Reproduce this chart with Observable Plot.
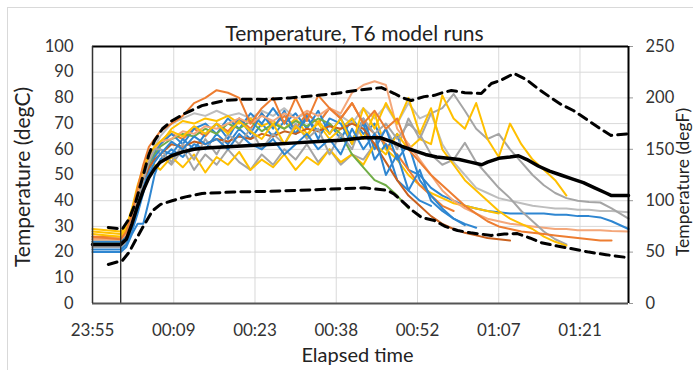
<!DOCTYPE html>
<html>
<head>
<meta charset="utf-8">
<script src="https://cdn.jsdelivr.net/npm/d3@7"></script>
<script src="https://cdn.jsdelivr.net/npm/@observablehq/plot@0.6"></script>
<style>
  html, body { margin: 0; padding: 0; background: #fff; overflow: hidden; }
  #wrap { position: relative; width: 693px; height: 370px; }
  #border { position: absolute; left: 7px; top: 7px; width: 700px; height: 380px; border: 1px solid #D9D9D9; pointer-events: none; }
</style>
</head>
<body>
<div id="wrap"><div id="chart"></div><div id="border"></div></div>
<script>
// Elapsed minutes from the 23:55 axis origin
const times = [0,5,6,7,8,9,10,11,12,14,16,18,20,22,24,26,28,30,32,34,36,38,40,42,44,46,48,50,52,54,56,58,60,62,64,66,68,70,72,74,76,78,80,82,84,86,88,90,92,95];

// Model runs (degC), values read at the times above until each run ends
const runB1 = [20,20,22,27,31,31,40,50,56,60, 57,62,60,66,62,68,64,70,65,71, 66,72,67,70,64,72,66,70,60,66, 52,50,45,42,40,38,37,36,35.5,35, 35,35,35,34.5,34.5,34,34,33.5,32,29];
const runB2 = [24,24,26,30,37,45,52,57,60,58, 64,60,66,70,64,72,66,74,68,75, 66,73,64,72,70,62,72,60,68,56, 62,48,42,37,33,31,29.5];
const runB3 = [21,21,23,28,35,43,50,55,58,63, 60,65,62,64,60,66,62,60,64,58, 62,66,60,64,58,68,60,66,50,58, 44,52,40,36,33,30.5];
const runB4 = [23,23,26,31,40,48,55,59,62,66, 62,68,70,66,72,68,74,70,76,70, 74,68,75,66,72,64,70,56,62,48, 44,40,38];
const runO1 = [26,25,28,35,45,54,61,64,67,70, 73,78,80,83,82,80,70,76,80,70, 80,71,81,76,72,78,70,75,68,72, 60,55,50,46,42,38,35,32,30,29, 28,27.5,27,26.5,26,25.5,25,24.5,24.5];
const runP1 = [25,25,27,33,42,50,56,60,63,64, 67,66,69,68,70,72,70,73,71,74, 72,75,73,76,74,82,85,86.5,85,68, 62,56,50,44,40,37,35,33,32,31, 30.5,30,29.5,29,29,28.5,28.5,28.5,28.2,28];
const runO3 = [25,25,27,32,41,48,53,56,58,62, 61,63,62,64,63,65,64,66,65,67, 66,68,67,69,68,70,68,62,55,48, 42,38,34,31,29,27.5,26.5,25.5,25,24.5];
const runY1 = [28,27,29,35,43,49,53,54,52,57, 53,58,51,57,54,59,52,56,53,58, 52,57,54,60,55,58,54,62,58,66, 60,64,62,81,72,68,78,64,57,70, 62,56,52,48,42];
const runY2 = [27,26,29,36,45,52,58,61,63,67, 65,69,66,70,66,71,67,64,70,62, 69,65,71,66,72,62,76,68,78,70, 80,66,76,60,54,48,44,40,36,33, 31,29,26,24,22.5];
const runY3 = [29,28,30,37,46,53,57,60,62,68, 71,70,72,71,73,70,72,69,71,68, 72,66,70,64,68,72,64,74,60,56, 50,46,43,41,39,38,37,36,35];
const runG1 = [23,23,25,31,41,50,57,61,58,54, 60,52,58,54,60,55,52,58,54,60, 56,62,55,60,54,58,56,62,68,60, 72,64,74,76,81.5,75,68,64,66,60, 55,50,46,43,41,40,39.5,39.3,37,33];
const runG2 = [22,22,24,30,40,49,56,61,65,70, 72,74,73,75,73,74,72,75,73,76, 72,74,70,76,73,70,76,72,77,70, 78,72,74,62,55,50,45,43,41,40, 39,38,37.5,37,37,36.5,36.5,36,36,35.5];
const runG3 = [22,22,24,30,40,48,55,60,60,55, 62,56,64,58,66,62,68,60,66,62, 70,64,68,58,66,60,72,66,70,64, 70,66,58,54,56,62.5,55,50,45,41, 36,32,28,25,23];
const runGreen = [24,24,26,32,41,49,54,58,61,64, 66,65,68,66,70,68,71,67,70,68, 71,69,72,70,66,58,53,48,46,42, 37];
const runO4 = [26,26,28,33,42,50,55,59,62,66, 64,68,65,70,67,72,68,74,69,73, 68,74,70,76,72,78,70,66,62,58, 52,46,42,38,36];

const runNames  = ["B1","G2","Y3","O4","B4","G1","Y1","Green","B2","O3","P1","G3","Y2","B3","O1"];
const runValues = [runB1,runG2,runY3,runO4,runB4,runG1,runY1,runGreen,runB2,runO3,runP1,runG3,runY2,runB3,runO1];
const runColors = ["#2E86D1","#BDBDBD","#FFC000","#ED7D31","#2E86D1","#A5A5A5","#FFC000","#70AD47","#2E86D1","#C8601E","#F4A77A","#A5A5A5","#FFC000","#2E86D1","#ED7D31"];

// Summary statistics: mean and envelope (minutes, degC)
const meanT  = [0,5,6,7,8,9,10,11,12,14,16,18,20,24,28,32,36,40,44,48,51,53,55,57,59,61,63,65,67,69,70,72,74,75.5,77,79,81,83,85,87,89,91,92,95];
const meanC  = [23,23,25,31,38,44,49,52.5,55,57.5,59,60,60.5,61,61.5,62,62.5,63,63.5,64.5,64.5,63,61,59.5,58,57,56.5,56,55,54,55,56.5,57,57.5,56,53.5,51.5,50,48.5,47,45,43,42,42];
const upperT = [2.8,5.3,6.5,7.6,9,10,11,12.4,14,16.4,19.4,23.5,27,30.6,35,40,43,47,51.2,53.5,55,56.5,58.8,60.6,62,63.6,66,68.9,70.7,72.5,74.7,77,79,81.3,83,85.3,88,90,91.9,94.7];
const upperC = [29.6,29,33,39,50,58,63.4,68,71,74,77,79,79.5,79.4,80,81,81.7,83,84,81.7,80,79,80.5,81,82,82.9,82,81.7,85.6,87,89.5,87,83.5,80,77.5,75,71,68,65.4,66];
const lowerT = [2.8,5.3,6.5,7.6,9,10.6,12,14.1,16.5,19.4,25,30.6,36,42,48.2,52.3,53.5,54.8,56.5,58.3,60.6,62.5,64.7,67,70.7,73,75.3,77.5,79.5,82,84.8,88,91,94.7];
const lowerC = [15.2,16.7,20,24.5,30,36,38.5,40,41.5,42.8,43.4,43.6,44,44.5,45,44,42.5,40,36.5,33.5,32.3,30,28.4,27.5,26.5,27,27.2,25.5,23.7,22.5,21.4,20,19,17.9];

// Axes
const xTicks = [0,14.4,28.8,43.2,57.6,72,86.4];
const xTickLabels = ["23:55","00:09","00:23","00:38","00:52","01:07","01:21"];
const yTicksC = [0,10,20,30,40,50,60,70,80,90,100];
const yTicksF = [0,50,100,150,200,250];
const startMarker = [5];

const zip = (ts, vs) => vs.map((v, i) => ({t: ts[i], c: v}));

const runMarks = runValues.map((vals, i) =>
  Plot.line(zip(times, vals), {x: "t", y: "c", stroke: runColors[i], strokeWidth: 2, curve: "linear"})
);

const chart = Plot.plot({
  width: 693,
  height: 370,
  marginLeft: 92,
  marginRight: 65,
  marginTop: 46,
  marginBottom: 67,
  style: {fontFamily: "Lato, 'Open Sans', sans-serif", fontSize: "16px", color: "#333", background: "white"},
  x: {type: "linear", domain: [0, 95]},
  y: {domain: [0, 100]},
  marks: [
    Plot.gridY({ticks: yTicksC, stroke: "#D9D9D9", strokeOpacity: 1}),
    Plot.gridX({ticks: xTicks, stroke: "#D9D9D9", strokeOpacity: 1}),
    Plot.axisY({anchor: "left", ticks: yTicksC, tickSize: 0, tickPadding: 19, label: null, fontSize: 16.5}),
    Plot.axisY({anchor: "right", ticks: yTicksF.map(f => f / 2.5), tickFormat: d => String(Math.round(d * 2.5)), tickSize: 4, tickPadding: 13, label: null, stroke: "#999", fontSize: 16.5}),
    Plot.axisX({ticks: xTicks, tickFormat: d => xTickLabels[xTicks.indexOf(d)], tickSize: 0, tickPadding: 20, label: null, fontSize: 17}),
    ...runMarks,
    Plot.line(zip(meanT, meanC), {x: "t", y: "c", stroke: "#000", strokeWidth: 3.5}),
    Plot.line(zip(upperT, upperC), {x: "t", y: "c", stroke: "#000", strokeWidth: 3, strokeDasharray: "9,6"}),
    Plot.line(zip(lowerT, lowerC), {x: "t", y: "c", stroke: "#000", strokeWidth: 3, strokeDasharray: "9,6"}),
    Plot.ruleX(startMarker, {stroke: "#222", strokeWidth: 1.3}),
    Plot.ruleY([100], {stroke: "#000", strokeWidth: 2}),
    Plot.ruleX([95], {stroke: "#000", strokeWidth: 2}),
    Plot.ruleY([0], {stroke: "#555", strokeWidth: 2}),
    Plot.ruleX([0], {stroke: "#333", strokeWidth: 1.5}),
    Plot.text(["Temperature, T6 model runs"], {frameAnchor: "top", lineAnchor: "middle", textAnchor: "middle", dx: -6, dy: -12, fontSize: 21, fill: "#222"}),
    Plot.text(["Elapsed time"], {frameAnchor: "bottom", lineAnchor: "middle", textAnchor: "middle", dx: -3, dy: 52, fontSize: 20, fill: "#222"}),
    Plot.text(["Temperature (degC)"], {frameAnchor: "left", lineAnchor: "middle", textAnchor: "middle", dx: -69, dy: 2, rotate: -90, fontSize: 21, fill: "#222"}),
    Plot.text(["Temperature (degF)"], {frameAnchor: "right", lineAnchor: "middle", textAnchor: "middle", dx: 55, dy: 7, rotate: -90, fontSize: 17.5, fill: "#222"})
  ]
});
document.getElementById("chart").appendChild(chart);
</script>
</body>
</html>
